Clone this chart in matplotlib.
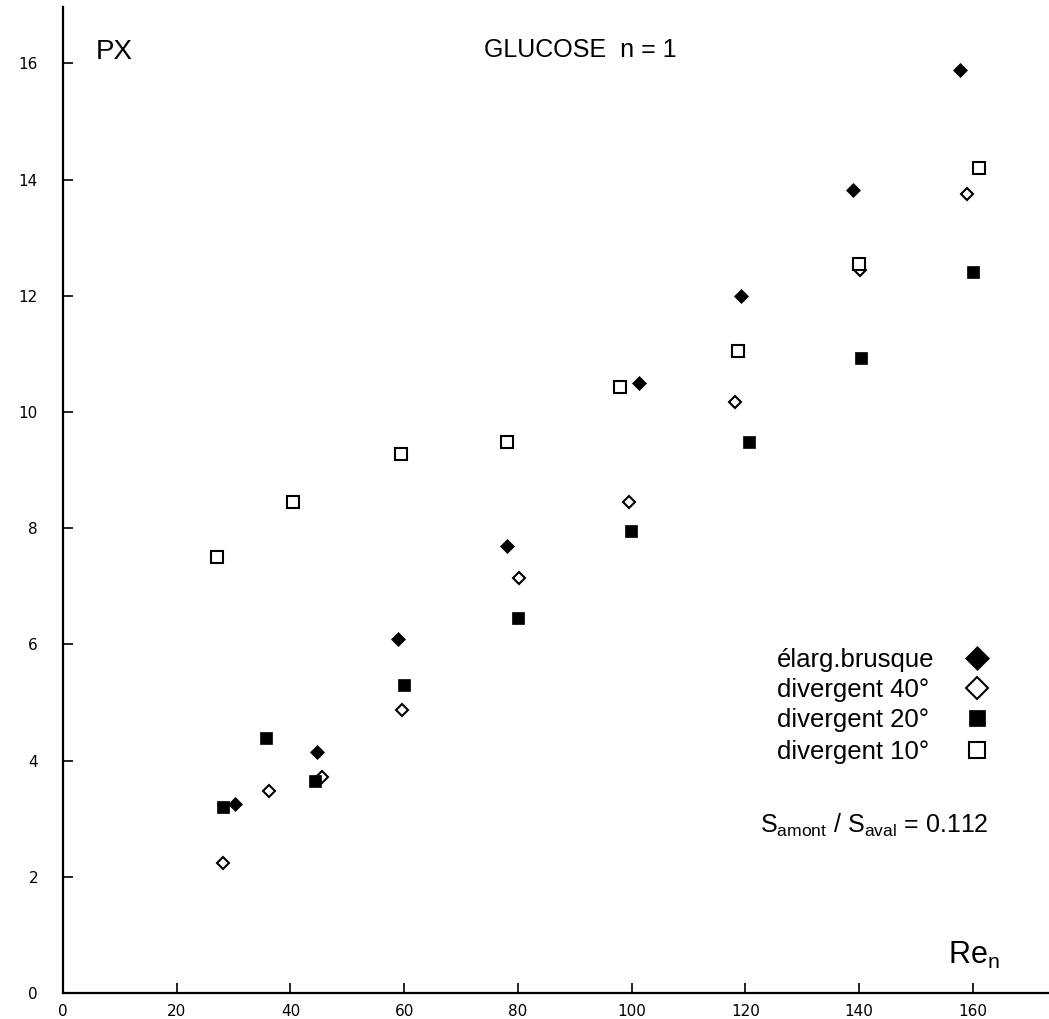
import numpy as np
import matplotlib.pyplot as plt
import matplotlib.ticker as ticker

plt.rcParams['font.family'] = ['Liberation Sans', 'DejaVu Sans']
plt.rcParams['mathtext.fontset'] = 'custom'
plt.rcParams['mathtext.rm'] = 'Liberation Sans'

# élarg.brusque (losanges pleins)
re_brusque = [30.2, 44.7, 59.0, 78.0, 101.3, 119.2, 139.0, 157.8]
px_brusque = [3.25, 4.15, 6.09, 7.70, 10.50, 12.00, 13.82, 15.89]

# divergent 40° (losanges vides)
re_div40 = [28.2, 36.2, 45.5, 59.6, 80.2, 99.6, 118.2, 140.2, 158.9]
px_div40 = [2.24, 3.48, 3.72, 4.87, 7.15, 8.45, 10.17, 12.45, 13.75]

# divergent 20° (carrés pleins)
re_div20 = [28.1, 35.7, 44.3, 60.0, 80.0, 99.9, 120.6, 140.3, 160.0]
px_div20 = [3.20, 4.39, 3.65, 5.30, 6.45, 7.95, 9.48, 10.93, 12.41]

# divergent 10° (carrés vides)
re_div10 = [27.1, 40.4, 59.5, 78.0, 97.9, 118.7, 140.0, 161.1]
px_div10 = [7.50, 8.45, 9.28, 9.48, 10.43, 11.05, 12.55, 14.20]

labels = ['élarg.brusque', 'divergent 40°', 'divergent 20°', 'divergent 10°']

W, H = 1049, 1019
fig = plt.figure(figsize=(W / 100, H / 100), dpi=100)
ax = fig.add_axes([63 / W, 26 / H, (W - 63) / W, (993 - 7) / H])

styles = [
    dict(marker='D', ms=7.6, color='k', mew=0.5),
    dict(marker='D', ms=6.2, mfc='white', mec='k', mew=1.5),
    dict(marker='s', ms=9.0, color='k', mew=0.5),
    dict(marker='s', ms=8.2, mfc='white', mec='k', mew=1.5),
]
series = [(re_brusque, px_brusque), (re_div40, px_div40),
          (re_div20, px_div20), (re_div10, px_div10)]

for (x, y), st, lab in zip(series, styles, labels):
    ax.plot(x, y, linestyle='', label=lab, **st)

ax.set_xlim(0, 173.4)
ax.set_ylim(0, 16.97)

for s in ['top', 'right']:
    ax.spines[s].set_visible(False)
ax.spines['left'].set_linewidth(1.6)
ax.spines['bottom'].set_linewidth(1.6)

# Метки
ax.xaxis.set_major_locator(ticker.MultipleLocator(20))
ax.yaxis.set_major_locator(ticker.MultipleLocator(2))
ax.tick_params(direction='in', length=7, width=1.2, labelsize=11)
ax.tick_params(axis='y', pad=18)
ax.tick_params(axis='x', pad=8)
for lab in ax.get_xticklabels() + ax.get_yticklabels():
    lab.set_family('DejaVu Sans')

# textes
fig.text(96 / W, 1 - 52 / H, 'PX', fontsize=20, va='center', ha='left')
fig.text(484 / W, 1 - 50 / H, 'GLUCOSE  n = 1', fontsize=18, va='center', ha='left')
fig.text(948 / W, 1 - 955 / H, r'Re$_{\mathregular{n}}$', fontsize=22, va='center', ha='left')
fig.text(760 / W, 1 - 825 / H,
         r'S$_{\mathregular{amont}}$ / S$_{\mathregular{aval}}$ = 0.112',
         fontsize=18, va='center', ha='left')

# légende (texte à gauche, symbole à droite)
leg_y = [660, 690, 720, 752]
leg_ms = [12.5, 11.0, 12.0, 11.0]
for lab, yy, st, ms in zip(labels, leg_y, styles, leg_ms):
    fig.text(777 / W, 1 - yy / H, lab, fontsize=18.5, va='center', ha='left')
    st2 = dict(st)
    st2['ms'] = ms
    ax.plot([977 / W], [1 - (yy - 2) / H], transform=fig.transFigure,
            clip_on=False, linestyle='', **st2)

fig.savefig('out.png', dpi=100, facecolor='white')
